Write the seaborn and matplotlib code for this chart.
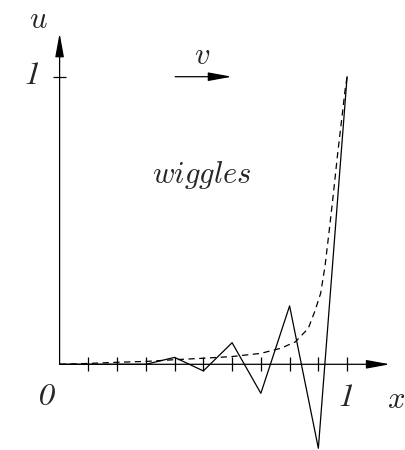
import matplotlib
matplotlib.use("Agg")
import matplotlib.pyplot as plt
import pandas as pd
import seaborn as sns

# grid solution (zig-zag) at the mesh nodes
x_nodes = [0.0, 0.1, 0.2, 0.3, 0.4, 0.5, 0.6, 0.7, 0.8, 0.9, 1.0]
u_wiggles = [0.0, 0.0, 0.0, 0.0, 0.024, -0.023, 0.075, -0.101, 0.203, -0.292, 1.0]

# smooth boundary-layer solution
x_exact = [0.0, 0.1, 0.2, 0.3, 0.4, 0.5, 0.6, 0.7, 0.77, 0.82, 0.865, 0.888,
           0.908, 0.923, 0.938, 0.952, 0.966, 0.981, 0.993, 1.0]
u_exact = [0.0, 0.003, 0.007, 0.01, 0.016, 0.021, 0.027, 0.038, 0.056, 0.078,
           0.125, 0.185, 0.247, 0.34, 0.467, 0.59, 0.722, 0.85, 0.954, 1.0]

x_ticks = [0.1, 0.2, 0.3, 0.4, 0.5, 0.6, 0.7, 0.8, 0.9, 1.0]
u_ticks = [1.0]

sns.set_theme(style="white")
plt.rcParams["mathtext.fontset"] = "cm"

fig = plt.figure(figsize=(4.05, 4.5), dpi=100)
ax = fig.add_axes([0, 0, 1, 1])
ax.set_xlim(-0.2073, 1.2014)
ax.set_ylim(-0.298, 1.2667)
ax.axis("off")

df_w = pd.DataFrame({"x": x_nodes, "u": u_wiggles})
df_e = pd.DataFrame({"x": x_exact, "u": u_exact})
sns.lineplot(data=df_w, x="x", y="u", sort=False, estimator=None,
             color="black", linewidth=0.9, ax=ax)
sns.lineplot(data=df_e, x="x", y="u", sort=False, estimator=None,
             color="black", linewidth=0.9, linestyle=(0, (5.0, 3.6)), ax=ax)

arrow = dict(arrowstyle="-|>,head_length=1.2,head_width=0.22",
             color="black", lw=0.9, shrinkA=0, shrinkB=0)
# coordinate axes
ax.annotate("", xy=(1.149, 0), xytext=(0, 0), arrowprops=arrow)
ax.annotate("", xy=(0, 1.151), xytext=(0, 0), arrowprops=arrow)
# flow direction
ax.annotate("", xy=(0.599, 1.0), xytext=(0.402, 1.0), arrowprops=arrow)

# tick marks
tick = 0.024
ax.vlines(x_ticks, -tick, tick, color="black", linewidth=0.9)
ax.hlines(u_ticks, -tick, tick, color="black", linewidth=0.9)

fs = 22
digit = dict(fontsize=23, ha="center", va="center",
             family="STIXGeneral", style="italic")
ax.text(-0.075, 1.2, r"$u$", fontsize=fs, ha="center", va="center")
ax.text(-0.096, 1.0, "1", **digit)
ax.text(-0.044, -0.117, "0", **digit)
ax.text(0.996, -0.12, "1", **digit)
ax.text(1.17, -0.124, r"$x$", fontsize=fs, ha="center", va="center")
ax.text(0.495, 1.075, r"$v$", fontsize=fs, ha="center", va="center")
ax.text(0.494, 0.658, r"$wiggles$", fontsize=fs, ha="center", va="center")

fig.savefig("out.png", dpi=100)
